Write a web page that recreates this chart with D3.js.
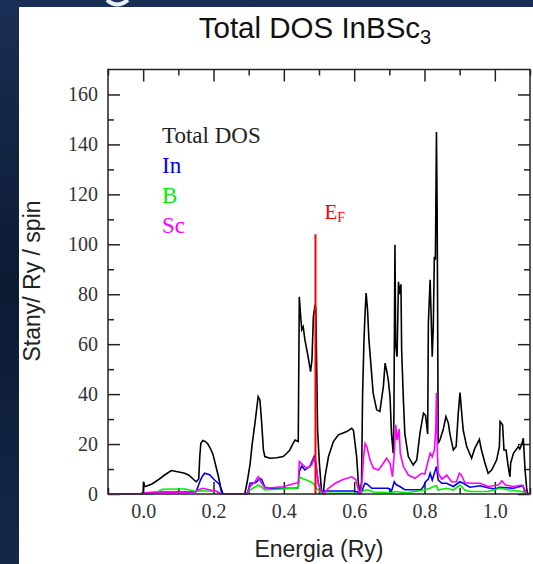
<!DOCTYPE html>
<html><head><meta charset="utf-8">
<script src="https://cdn.jsdelivr.net/npm/d3@7"></script>
<style>html,body{margin:0;padding:0;background:#0d1c36;}svg{display:block;}</style>
</head><body>
<svg id="chart" width="533" height="564"></svg>
<script>
// ---- data (energy in Ry, DOS in states / Ry / spin) ----
const totalDOS = [[-0.1,0],[-0.01,0],[0.0,0.5],[0.001,4.9],[0.004,3],[0.01,3.2],[0.025,4],[0.042,5.6],[0.06,7.5],[0.08,9.4],[0.094,9],[0.105,8.7],[0.118,8.3],[0.13,7.5],[0.145,5.6],[0.151,4.9],[0.158,6],[0.161,15],[0.164,20.3],[0.17,21.4],[0.177,21],[0.184,20],[0.192,18],[0.199,15.6],[0.207,11],[0.214,7],[0.22,2.9],[0.227,0],[0.289,0],[0.296,5],[0.304,12],[0.31,20],[0.318,28.5],[0.327,39],[0.332,37.7],[0.337,28.5],[0.342,17.6],[0.346,15],[0.36,14.3],[0.38,14.5],[0.398,15],[0.41,16.5],[0.417,17.6],[0.425,20],[0.432,21.6],[0.441,21],[0.444,79],[0.448,71],[0.451,65.8],[0.455,67],[0.46,61.7],[0.469,55],[0.476,49],[0.48,53.7],[0.484,71],[0.489,75.8],[0.491,74],[0.496,25.7],[0.501,12.4],[0.507,1.6],[0.512,0],[0.517,6.9],[0.527,15],[0.541,21],[0.555,23.7],[0.579,25],[0.593,26.3],[0.598,25.5],[0.607,15],[0.612,4.4],[0.617,0],[0.621,5],[0.624,40.5],[0.628,62],[0.631,72.4],[0.634,80.5],[0.638,73.8],[0.642,61.7],[0.648,51],[0.654,40.4],[0.664,33.7],[0.673,33],[0.683,43],[0.688,52.4],[0.692,49.7],[0.697,45.7],[0.702,39],[0.706,24.3],[0.711,16.3],[0.713,31],[0.716,99.8],[0.718,60],[0.722,55],[0.726,85],[0.73,80],[0.733,84],[0.735,57.7],[0.74,37.7],[0.744,24.3],[0.754,15],[0.768,11.6],[0.778,13.6],[0.787,24.3],[0.797,32.4],[0.803,31.5],[0.809,24],[0.811,68.4],[0.816,85.8],[0.819,71],[0.822,55],[0.825,67],[0.828,95],[0.831,93.8],[0.834,145],[0.836,112.7],[0.839,20.3],[0.844,21.7],[0.853,25.7],[0.861,31],[0.868,28.3],[0.872,24.3],[0.882,17.6],[0.89,19],[0.896,32.4],[0.901,40.6],[0.905,33.7],[0.91,25.7],[0.92,19],[0.934,14.3],[0.943,18.3],[0.956,21.9],[0.962,17.6],[0.972,12.3],[0.981,8.3],[0.991,9.6],[1.005,13.6],[1.013,19],[1.015,29],[1.022,27.7],[1.026,17.6],[1.032,17.6],[1.038,11],[1.043,6.9],[1.045,12.4],[1.053,16.3],[1.067,19],[1.071,18],[1.076,19.6],[1.081,22.3],[1.086,9.6],[1.091,1.6],[1.094,0],[1.1,0]];
const inDOS = [[-0.1,0],[0.0,0],[0.005,0.5],[0.05,0.8],[0.14,0.8],[0.151,1],[0.156,3],[0.161,4.9],[0.168,7],[0.175,8.3],[0.189,7.7],[0.203,5.6],[0.212,4.5],[0.218,3.6],[0.222,1],[0.226,0],[0.295,0],[0.3,2],[0.304,4.3],[0.32,4.5],[0.332,6.3],[0.337,5.8],[0.346,2.7],[0.36,2.3],[0.43,2.3],[0.441,2.5],[0.444,9],[0.451,11.2],[0.46,9.6],[0.474,11],[0.486,15],[0.491,12.4],[0.498,4.3],[0.507,0.5],[0.515,1.2],[0.6,1.2],[0.61,0.8],[0.617,0],[0.622,1],[0.628,3.5],[0.631,4.3],[0.636,4],[0.65,2.3],[0.697,2.3],[0.706,1],[0.714,4.9],[0.72,3.7],[0.73,3],[0.744,1.7],[0.79,1.7],[0.797,3],[0.803,4.9],[0.811,6],[0.816,8.3],[0.822,5.6],[0.828,8.3],[0.834,11],[0.839,5.6],[0.849,4.3],[0.863,4.3],[0.882,3],[0.901,4.9],[0.91,4.3],[0.929,2.7],[0.958,3.3],[0.98,2.5],[1.0,2],[1.015,2.7],[1.053,2.3],[1.08,3.3],[1.086,0.5],[1.09,0],[1.1,0]];
const bDOS = [[-0.1,0],[0.025,0],[0.042,0.9],[0.055,1.9],[0.1,2],[0.12,2],[0.151,1],[0.165,1.3],[0.21,1],[0.22,0],[0.295,0],[0.304,1.6],[0.318,2.8],[0.327,3.6],[0.337,2.7],[0.346,1.6],[0.432,2.3],[0.441,2.5],[0.444,6.9],[0.45,6.3],[0.465,5.6],[0.484,4.3],[0.493,2.3],[0.503,1],[0.512,0],[0.52,0.3],[0.6,0.3],[0.615,0],[0.622,0.8],[0.631,1.6],[0.64,1.6],[0.655,0.8],[0.706,0.5],[0.716,1],[0.75,0.5],[0.8,1.6],[0.816,2.3],[0.825,3],[0.834,3.3],[0.839,1.6],[0.863,2.3],[0.882,1.6],[0.901,3.6],[0.915,1.6],[0.93,1],[0.981,1],[1.015,2.3],[1.04,1.6],[1.077,1],[1.086,0.5],[1.09,0],[1.1,0]];
const scDOS = [[-0.1,0],[0.0,0],[0.005,0.5],[0.14,0.8],[0.151,1],[0.156,1.6],[0.17,2.3],[0.185,1.8],[0.21,1],[0.22,0],[0.295,0],[0.304,2.9],[0.318,4.9],[0.327,6.9],[0.337,4.3],[0.346,2.3],[0.398,2.9],[0.432,4.3],[0.441,4.5],[0.444,13],[0.455,11.6],[0.465,10.3],[0.479,11.6],[0.486,14.3],[0.491,12.4],[0.498,4.3],[0.507,1],[0.514,0.3],[0.527,2.3],[0.546,4.3],[0.57,5.9],[0.593,6.9],[0.605,5.7],[0.612,1.6],[0.617,0],[0.621,2.9],[0.627,15],[0.631,20.3],[0.636,19],[0.645,13.6],[0.655,10.3],[0.669,9.6],[0.683,12.3],[0.692,14.3],[0.702,12.3],[0.709,6.9],[0.714,16.3],[0.718,27.7],[0.722,21.6],[0.728,26],[0.731,16.3],[0.74,11],[0.754,7.6],[0.773,6.3],[0.792,8.3],[0.801,8],[0.811,13.6],[0.816,16.3],[0.822,15],[0.828,17.6],[0.832,25.7],[0.834,40.5],[0.837,15],[0.839,8.3],[0.849,6],[0.858,6.9],[0.863,7.6],[0.877,4.9],[0.891,4.9],[0.899,8.3],[0.905,7.5],[0.915,4.5],[0.934,4.3],[0.958,4.3],[0.981,3],[1.01,3.6],[1.02,5.3],[1.03,3.6],[1.053,3],[1.077,3.6],[1.086,1.6],[1.09,0],[1.1,0]];
const fermiEnergy = 0.49;
const fermiTop = 104;
const xMajorTicks = [0.0, 0.2, 0.4, 0.6, 0.8, 1.0];
const xMinorTicks = [-0.1, 0.1, 0.3, 0.5, 0.7, 0.9, 1.1];
const yMajorTicks = [0, 20, 40, 60, 80, 100, 120, 140, 160];
const yMinorTicks = [10, 30, 50, 70, 90, 110, 130, 150];
const legendItems = ["Total DOS", "In", "B", "Sc"];
const seriesColors = ["#000000", "#0000ff", "#00ee00", "#ff00ff"];

// ---- drawing ----
const svg = d3.select("#chart");
const defs = svg.append("defs");
const grad = defs.append("linearGradient").attr("id","bg").attr("x1","0").attr("y1","0").attr("x2","0").attr("y2","1");
grad.append("stop").attr("offset","0").attr("stop-color","#1a2f55");
grad.append("stop").attr("offset","0.5").attr("stop-color","#0c1a33");
grad.append("stop").attr("offset","1").attr("stop-color","#14284a");
svg.append("rect").attr("width",533).attr("height",564).attr("fill","url(#bg)");
// bottom of a large slide-heading glyph peeking in at the top edge
svg.append("path").attr("d","M107,0 Q117,9 128,0").attr("fill","none").attr("stroke","#e8eef8").attr("stroke-width",4);
svg.append("rect").attr("x",19).attr("y",7).attr("width",514).attr("height",557).attr("fill","#ffffff");

const L = 108, R = 530, T = 69.5, B = 494;
const x = d3.scaleLinear().domain([-0.1, 1.1]).range([L, R]);
const y = d3.scaleLinear().domain([0, 170]).range([B, T]);

defs.append("clipPath").attr("id","plotclip").append("rect")
  .attr("x",L).attr("y",T).attr("width",R-L).attr("height",B-T+1);

const axisColor = "#222";
function styleAxis(g){
  g.select(".domain").remove();
  g.selectAll(".tick line").attr("stroke",axisColor).attr("stroke-width",1.5);
  g.selectAll(".tick text").attr("fill","#333").attr("font-family","Liberation Serif, Times New Roman, serif").attr("font-size",20);
}
svg.append("g").attr("transform",`translate(${L},0)`)
  .call(d3.axisLeft(y).tickValues(yMajorTicks).tickSizeInner(-12).tickSizeOuter(0).tickPadding(10).tickFormat(d3.format("d")))
  .call(styleAxis);
svg.append("g").attr("transform",`translate(${L},0)`)
  .call(d3.axisLeft(y).tickValues(yMinorTicks).tickSizeInner(-6).tickSizeOuter(0).tickFormat(""))
  .call(styleAxis);
svg.append("g").attr("transform",`translate(${R},0)`)
  .call(d3.axisRight(y).tickValues(yMajorTicks).tickSizeInner(-12).tickSizeOuter(0).tickFormat(""))
  .call(styleAxis);
svg.append("g").attr("transform",`translate(${R},0)`)
  .call(d3.axisRight(y).tickValues(yMinorTicks).tickSizeInner(-6).tickSizeOuter(0).tickFormat(""))
  .call(styleAxis);
svg.append("g").attr("transform",`translate(0,${B})`)
  .call(d3.axisBottom(x).tickValues(xMajorTicks).tickSizeInner(-12).tickSizeOuter(0).tickPadding(10).tickFormat(d3.format(".1f")))
  .call(styleAxis);
svg.append("g").attr("transform",`translate(0,${B})`)
  .call(d3.axisBottom(x).tickValues(xMinorTicks).tickSizeInner(-6).tickSizeOuter(0).tickFormat(""))
  .call(styleAxis);
svg.append("g").attr("transform",`translate(0,${T})`)
  .call(d3.axisTop(x).tickValues(xMajorTicks).tickSizeInner(-12).tickSizeOuter(0).tickFormat(""))
  .call(styleAxis);
svg.append("g").attr("transform",`translate(0,${T})`)
  .call(d3.axisTop(x).tickValues(xMinorTicks).tickSizeInner(-6).tickSizeOuter(0).tickFormat(""))
  .call(styleAxis);

// curves
const line = d3.line().x(d => x(d[0])).y(d => y(d[1]));
const plot = svg.append("g").attr("clip-path","url(#plotclip)");
[totalDOS, inDOS, bDOS, scDOS].forEach((s, i) => {
  plot.append("path").datum(s).attr("d", line).attr("fill","none")
    .attr("stroke", seriesColors[i]).attr("stroke-width", 1.6).attr("stroke-linejoin","miter");
});
// Fermi level
plot.append("line").attr("x1",x(fermiEnergy)).attr("x2",x(fermiEnergy))
  .attr("y1",y(0)).attr("y2",y(fermiTop)).attr("stroke","#ff0000").attr("stroke-width",2);

// frame
svg.append("rect").attr("x",L).attr("y",T).attr("width",R-L).attr("height",B-T)
  .attr("fill","none").attr("stroke",axisColor).attr("stroke-width",1.5);

// legend
legendItems.forEach((t, i) => {
  svg.append("text").attr("x",162).attr("y",143 + i*30)
    .attr("font-family","Liberation Serif, Times New Roman, serif").attr("font-size",23)
    .attr("fill", i === 0 ? "#222" : seriesColors[i]).text(t);
});
// E_F label
const ef = svg.append("text").attr("x",x(fermiEnergy)+9).attr("y",219)
  .attr("font-family","Liberation Serif, Times New Roman, serif").attr("font-size",21).attr("fill","#ff0000");
ef.append("tspan").text("E");
ef.append("tspan").attr("font-size",14).attr("dy",3).text("F");

// titles
const title = svg.append("text").attr("x",315).attr("y",38).attr("text-anchor","middle")
  .attr("font-family","Liberation Sans, Arial, sans-serif").attr("font-size",29.5).attr("fill","#111");
title.append("tspan").text("Total DOS InBSc");
title.append("tspan").attr("font-size",20).attr("dy",6).text("3");

svg.append("text").attr("x",319).attr("y",557).attr("text-anchor","middle")
  .attr("font-family","Liberation Sans, Arial, sans-serif").attr("font-size",23).attr("fill","#222")
  .text("Energia (Ry)");
svg.append("text").attr("transform","translate(40,281) rotate(-90)").attr("text-anchor","middle")
  .attr("font-family","Liberation Sans, Arial, sans-serif").attr("font-size",23).attr("fill","#222")
  .text("Stany/ Ry / spin");
</script>
</body></html>
